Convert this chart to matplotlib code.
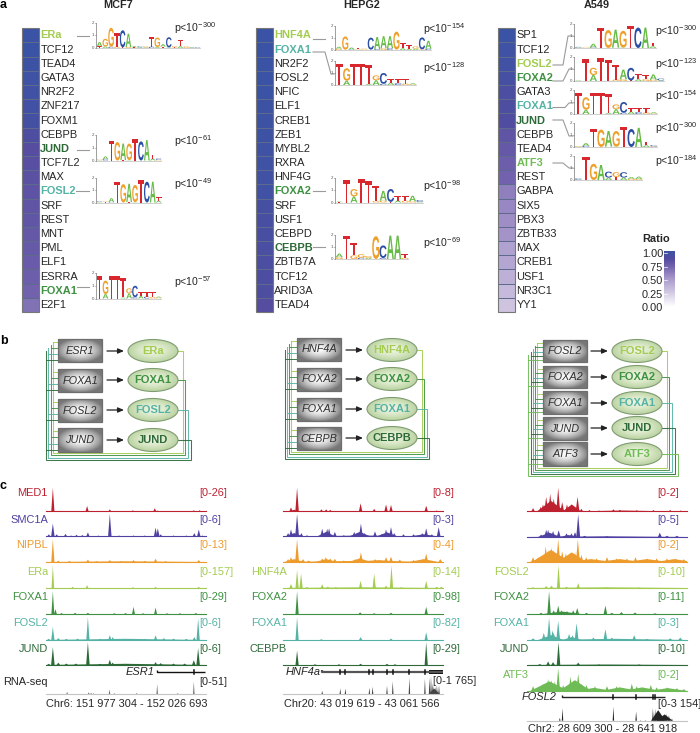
#!/usr/bin/env python3
"""Motif logos, core regulatory circuits and ChIP-seq tracks for MCF7, HEPG2 and A549."""

from __future__ import annotations

import matplotlib

matplotlib.use("Agg")

import matplotlib.pyplot as plt
import numpy as np
from matplotlib.colors import LinearSegmentedColormap
from matplotlib.font_manager import FontProperties
from matplotlib.patches import Ellipse, PathPatch, Rectangle
from matplotlib.textpath import TextPath
from matplotlib.transforms import Affine2D

W, H = 700, 733

# --- panel a: ranked factors ---------------------------------------------------
MCF7_FACTORS = ["ERa", "TCF12", "TEAD4", "GATA3", "NR2F2", "ZNF217", "FOXM1", "CEBPB", "JUND", "TCF7L2",
                "MAX", "FOSL2", "SRF", "REST", "MNT", "PML", "ELF1", "ESRRA", "FOXA1", "E2F1"]
HEPG2_FACTORS = ["HNF4A", "FOXA1", "NR2F2", "FOSL2", "NFIC", "ELF1", "CREB1", "ZEB1", "MYBL2", "RXRA",
                 "HNF4G", "FOXA2", "SRF", "USF1", "CEBPD", "CEBPB", "ZBTB7A", "TCF12", "ARID3A", "TEAD4"]
A549_FACTORS = ["SP1", "TCF12", "FOSL2", "FOXA2", "GATA3", "FOXA1", "JUND", "CEBPB", "TEAD4", "ATF3",
                "REST", "GABPA", "SIX5", "PBX3", "ZBTB33", "MAX", "CREB1", "USF1", "NR3C1", "YY1"]

MCF7_RATIO = [1.0, .99, .98, .97, .96, .95, .94, .88, .84, .83, .82, .81, .8, .79, .78, .77, .76, .74, .72, .66]
HEPG2_RATIO = [1.0, 1.0, .99, .99, .99, .98, .98, .98, .97, .97, .96, .96, .93, .92, .92, .91, .9, .89, .88, .84]
A549_RATIO = [1.0, .97, .96, .93, .9, .88, .87, .8, .78, .74, .72, .6, .57, .54, .52, .45, .43, .38, .33, .28]

RATIO_TICKS = ["1.00", "0.75", "0.50", "0.25", "0.00"]

# logo letters, bits of the top letter, lower letters, bits of the lower letter
LOGO_ERA = ("AGGTCAACGTGACGTGAC", [.35, .6, 1.5, 1.05, 1.35, 1.05, .1, .08, .08, .75, .75, .2, .8, .1, .45, .08, .05, .05],
            "TACGTGTAACATATAGCT", [.12, .12, .1, .1, .05, .08, .05, .05, .05, .1, .08, .1, .05, .05, .15, .05, .03, .03])
LOGO_JUN = ("GATGAGTCATC", [.05, .22, 1.5, 1.45, 1.3, 1.3, 1.65, 1.5, 1.6, .3, .1],
            "ACCTTAACTAG", [.03, .1, 0, 0, .03, .03, 0, 0, 0, .15, .05])
LOGO_FOS = ("CGATGAGTCAT", [.05, .05, .3, 1.7, 1.5, 1.5, 1.4, 1.85, 1.7, 1.7, .3],
            "ATCCTTAACTA", [.04, .04, .05, 0, 0, .03, .03, 0, 0, 0, .15])
LOGO_FOXA1 = ("TGTTTGCTTTA", [1.75, 1.05, 1.75, 1.75, 1.55, .4, .9, .3, .35, .4, .1],
              "AAAAAACACGG", [0, .35, 0, 0, .08, .4, .1, .2, .15, .12, .05])
LOGO_HNF = ("AGATGCAAAGTTGCA", [.15, 1.1, .15, .1, .08, 1.0, 1.0, 1.0, 1.0, 1.5, .4, .3, .2, 1.0, .65],
            "GTCGTTCGCTAAAGC", [.12, .03, .05, .05, .03, .03, .08, .15, .15, .03, .15, .1, .1, .05, .12])
LOGO_FOXA2 = ("ATGTTTACTTAC", [.05, 1.8, .6, 1.9, 1.75, 1.25, .8, 1.05, .4, .35, .45, .15],
              "TCAAAGGTAGGA", [.03, 0, .5, 0, 0, .12, .15, .05, .15, .15, .1, .05])
LOGO_CEB = ("ATTGGGCAAT", [.3, 1.95, 1.05, .3, .15, 1.9, 1.05, 1.95, 1.95, .3],
            "GAGCAACTTG", [.15, 0, .3, .1, .1, 0, .08, 0, 0, .1])
LOGO_ATF = ("CTGACGCAA", [.1, 1.95, 1.35, 1.25, .5, .4, .45, .15, .2],
            "ACCGATAGG", [.03, 0, 0, 0, .2, .25, .2, .1, .08])

P_VALUES_MCF7 = ["-300", "-61", "-49", "-57"]
P_VALUES_HEPG2 = ["-154", "-128", "-98", "-69"]
P_VALUES_A549 = ["-300", "-123", "-154", "-300", "-184"]

# --- panel b: circuits ---------------------------------------------------------
MCF7_GENES = ["ESR1", "FOXA1", "FOSL2", "JUND"]
MCF7_PROTEINS = ["ERa", "FOXA1", "FOSL2", "JUND"]
HEPG2_GENES = ["HNF4A", "FOXA2", "FOXA1", "CEBPB"]
HEPG2_PROTEINS = ["HNF4A", "FOXA2", "FOXA1", "CEBPB"]
A549_GENES = ["FOSL2", "FOXA2", "FOXA1", "JUND", "ATF3"]
A549_PROTEINS = ["FOSL2", "FOXA2", "FOXA1", "JUND", "ATF3"]

# --- panel c: signal as (percent along region, fraction of track height[, half width]) --
MCF7_PEAKS = {
    "MED1": [(4.6, 1), (9.4, .04), (26, .24), (40.2, .1), (54.6, .06), (68.3, .15), (70, .05), (92.7, .06), (96.3, .06)],
    "SMC1A": [(2.1, .1), (4.6, .55), (7, .1), (12.5, .12), (16, .05), (19.4, .08), (23, .07), (26.5, .18), (33, .05), (40.2, .95),
              (46, .05), (55, .05), (62, .05), (68.8, .38), (70.2, .35), (72, .1), (80, .05), (88, .05), (93, .15), (95.8, .3), (98, .05), (50, .03, 50)],
    "NIPBL": [(4.6, .95), (8, .05), (15, .04), (26.5, .1), (32, .03), (40.2, .08), (47, .03), (55, .08), (62, .04), (68.8, .14), (75, .03), (95.8, .08), (50, .03, 50)],
    "ERa": [(4.6, .95), (17, .05), (26, .12), (54.6, .03), (68.8, .05), (95.8, .05)],
    "FOXA1": [(4.6, .95), (6.2, .2), (10, .04), (18.5, .05), (26.5, .05), (43, .03), (50, .04), (55, .3), (61, .03), (68.8, .27), (76, .03), (84, .03), (94, .04)],
    "FOSL2": [(2, .05), (4.6, .55), (8, .08), (13, .05), (20, .06), (26.5, .95), (34, .05), (40.2, .2), (42, .12), (48, .05), (55, .05), (62, .05),
              (68.8, .2), (74, .08), (80, .06), (88, .05), (93, .12), (95.4, .9), (50, .05, 50)],
    "JUND": [(2, .05), (4.6, .75), (8, .1), (13, .06), (19, .06), (26.5, .95), (34, .05), (40.2, .22), (42, .1), (50, .05), (58, .05), (68.8, .12),
             (72, .08), (80, .06), (87, .06), (92.7, .2), (95.4, .7), (50, .05, 50)],
    "RNA-seq": [(13.5, .12), (27, .1), (28.5, .07), (30, .04), (40, .25), (43, .04), (57, .05), (69.8, .55), (82.7, .05), (92.7, .7)],
}
HEPG2_PEAKS = {
    "MED1": [(5, .18), (7, .08, 4), (8.8, 1), (24, .1), (25, .03, 5), (27, .1), (29.5, .08), (48.5, .35), (57, .12), (64.4, .3), (67.5, .28), (73, .03), (89.5, .25), (96, .05)],
    "SMC1A": [(3.2, .15), (5, .3), (8.8, .95), (11.5, .15), (15, .06), (24.5, .33), (27.6, .33), (28.8, .35), (32.4, .2), (38, .06), (44.5, .2),
              (48.7, .55), (51, .15), (57.5, .22), (61.8, .12), (64.4, .3), (67.5, .4), (69.5, .15), (75.3, .1), (81.6, .1), (87, .15), (89.5, .35),
              (93, .1), (97.3, .4), (7, .15, 6), (27, .2, 6), (48, .2, 7), (65, .18, 7), (88, .1, 10), (50, .05, 50)],
    "NIPBL": [(3.2, .12), (5, .2), (8.8, .95), (12.5, .12), (16, .06), (24.5, .15), (26.8, .2), (29.5, .15), (32.4, .13), (38, .06), (45, .12), (48.7, .4),
              (57.5, .12), (64.4, .2), (67.5, .22), (73, .1), (81.6, .08), (89.5, .35), (98.3, .12), (7, .12, 6), (27, .12, 7), (48, .15, 7), (60, .08, 15), (88, .12, 9), (50, .05, 50)],
    "HNF4A": [(5, .17), (8.8, .75), (11.3, .6), (15, .04), (24.5, .15), (28, .05), (33, .03), (48.5, .3), (57, .6), (64.4, .1), (67.8, .95), (74, .03), (89.5, .3), (96, .05), (99, .05), (50, .03, 50)],
    "FOXA2": [(8.8, .95), (48.2, .07), (57, .03), (67.5, .05), (89.5, .3)],
    "FOXA1": [(8.8, .95), (24, .03), (48.5, .12), (67.5, .06), (89.5, .32)],
    "CEBPB": [(8.8, .6), (20, .03), (35, .03), (48.5, .05), (65, .05), (70, .03), (89.5, .95)],
    "RNA-seq": [(24.5, .17), (35.8, .3), (39, .3), (54, .35), (56, .4), (65, .45), (68.6, .7), (79, .9), (88.7, .85),
                (91.6, .9), (92.5, 1), (93.3, .6), (94.1, .45), (95.2, .4), (96.2, .5), (97.5, .5), (94.5, .3, 3.5)],
}
A549_PEAKS = {
    "MED1": [(3.8, .15), (8.6, .2), (10, .3), (12, .62), (14.5, .75), (16.7, .55), (19.5, 1), (22, .4), (25, .3), (27.8, .3), (31.6, .62), (34, .12),
             (39, .07), (45, .05), (54, .1), (58, .08), (68.6, .06), (79, .07), (89.5, .07), (96, .05), (15, .45, 9), (28, .3, 6), (60, .05, 40)],
    "SMC1A": [(8.8, .1), (12, .3), (13.2, .3), (16.3, .25), (19.8, .28), (24.7, .15), (27.8, .15), (30, .2), (32, .95), (36, .05), (50, .03), (83, .18), (87.5, .05), (93.7, .05),
              (14, .18, 7), (26, .08, 6), (50, .03, 50)],
    "NIPBL": [(3.8, .2), (7, .2), (9, .25), (11.7, .65), (13.2, .5), (15.3, .6), (16.7, .5), (19.5, .95), (22, .45), (24.3, .35), (27.2, .4), (30, .4), (31.8, .95),
              (34, .3), (37, .2), (43.5, .15), (50, .2), (56, .15), (62.5, .15), (67.8, .2), (75, .15), (81, .15), (87.5, .15), (93, .15), (98, .12),
              (15, .5, 12), (28, .4, 9), (10, .2, 8), (40, .12, 14), (58, .12, 14), (75, .12, 14), (92, .12, 12)],
    "FOSL2": [(3.8, .03), (12, .08), (15.3, .1), (19.7, .95), (24.7, .05), (32, .2), (50, .02), (70, .02), (50, .03, 50)],
    "FOXA2": [(8.8, .05), (13.8, .95), (16.7, .15), (19.5, .35), (21.5, .15), (25, .12), (28.9, .15), (31.4, .25), (37.2, .05), (49, .35), (53, .05), (59, .08), (67.5, .06), (80, .03),
              (22, .1, 12)],
    "FOXA1": [(3.8, .07), (10.5, .3), (13.8, .92), (16, .4), (16.7, .3), (19.5, .8), (26.3, .25), (28.5, .2), (31, .7), (41.5, .1), (49, .45), (53, .1), (67, .2), (75, .05), (89.5, .07), (95.8, .1),
              (15, .2, 8), (28, .12, 6), (55, .05, 45)],
    "JUND": [(8, .04), (13.2, .15), (16.3, .12), (19.7, .95), (32, .1), (45, .02), (70, .02), (50, .02, 50)],
    "ATF3": [(3.8, .2), (7, .15), (10, .3), (13.2, .5), (15.3, .45), (17.4, .4), (19.5, .95), (22.6, .25), (27.2, .6), (28.9, .45), (32, .72), (34, .3), (37.2, .25),
             (42.5, .2), (50, .2), (56, .2), (65.5, .3), (68.6, .2), (77.4, .25), (81, .15), (87.5, .15), (93.7, .12), (98, .08),
             (14, .4, 12), (30, .45, 10), (42, .13, 12), (58, .15, 12), (72, .15, 12), (88, .12, 12)],
    "RNA-seq": [(20.5, .2), (22.2, .9), (54, 1), (68.2, .65), (71, .03), (74, .03), (78.7, .9), (80.1, .85), (81.6, .7), (83.3, .55), (85, .4), (87, .5), (88.7, .4), (90.6, .15),
                (82, .75, 4.5), (86, .45, 5)],
}

MCF7_RANGES = ["[0-26]", "[0-6]", "[0-13]", "[0-157]", "[0-29]", "[0-6]", "[0-6]", "[0-51]"]
HEPG2_RANGES = ["[0-8]", "[0-3]", "[0-4]", "[0-14]", "[0-98]", "[0-82]", "[0-29]", "[0-1 765]"]
A549_RANGES = ["[0-2]", "[0-5]", "[0-2]", "[0-10]", "[0-11]", "[0-3]", "[0-10]", "[0-2]", "[0-3 154]"]

# tracks that carry a name on their left
MCF7_LABELLED = list(MCF7_PEAKS)
HEPG2_LABELLED = ["HNF4A", "FOXA2", "FOXA1", "CEBPB"]
A549_LABELLED = ["FOSL2", "FOXA2", "FOXA1", "JUND", "ATF3"]

# exon positions as percent of the region
MCF7_EXONS = [92.7]
HEPG2_EXONS = [35.8, 39, 54, 56, 65, 68.6, 79, 88.7]
A549_EXONS = [54, 68.2, 78.7, 80]

LIME, GREEN, TEAL, DARK, ATF = "#a3cc50", "#3f9142", "#55b3a5", "#2d6a38", "#6fbb55"
RED, PURPLE, ORANGE = "#bd2130", "#4f41a1", "#ee9b2d"
LOGO_COLORS = {"A": "#66bb47", "C": "#2b4fa6", "G": "#efa02c", "T": "#d8282e"}
RATIO_CMAP = LinearSegmentedColormap.from_list(
    "ratio",
    [(0, "#ffffff"), (.25, "#d3cae3"), (.5, "#a898cb"), (.72, "#7262ad"), (.85, "#544ca0"), (1, "#3a53a4")],
)

plt.rcParams["font.family"] = ["Liberation Sans", "DejaVu Sans"]
plt.rcParams["mathtext.default"] = "regular"
TEXT = "#262626"
LOGO_FONT = FontProperties(family="Liberation Sans", weight="bold")


def px_axes(fig, x0, y0, x1, y1):
    """Inset axes placed by pixel box, y counted from the top."""
    ax = fig.add_axes([x0 / W, 1 - y1 / H, (x1 - x0) / W, (y1 - y0) / H])
    ax.axis("off")
    return ax


def draw_letter(ax, letter, x, base, width, height):
    if height <= 0:
        return
    tp = TextPath((0, 0), letter, size=1, prop=LOGO_FONT)
    box = tp.get_extents()
    tr = Affine2D().translate(-box.x0, -box.y0).scale(width / box.width, -height / box.height).translate(x, base)
    ax.add_patch(PathPatch(tr.transform_path(tp), fc=LOGO_COLORS[letter], lw=0))


def draw_logo(ax, logo, axis_x, base, top, width):
    letters, bits, low_letters, low_bits = logo
    per_bit = (base - top) / 2
    ax.plot([axis_x, axis_x], [base, top], color="#777777", lw=0.5)
    for tick, label in enumerate("012"):
        y = base - tick * per_bit
        ax.plot([axis_x - 1.2, axis_x], [y, y], color="#777777", lw=0.4)
        ax.text(axis_x - 1.6, y, label, fontsize=3.2, ha="right", va="center", color="#555555")
    ax.plot([axis_x + 1, axis_x + width], [base + .3, base + .3], color="#c8c8c8", lw=0.6)
    step = width / len(letters)
    for i, letter in enumerate(letters):
        x = axis_x + 0.7 + i * step
        low = low_bits[i] * per_bit
        draw_letter(ax, low_letters[i], x, base, step * .97, low)
        draw_letter(ax, letter, x, base - low, step * .97, bits[i] * per_bit)


def draw_ranked(fig, ax, x0, names, ratios, colored, logos, pvals, p_x, p_y):
    top, bottom = 28.3, 312
    hm = px_axes(fig, x0, top, x0 + 17, bottom)
    hm.pcolormesh(np.array(ratios)[:, None], cmap=RATIO_CMAP, vmin=0, vmax=1, edgecolors="#5d6a8c", linewidth=0.5)
    hm.invert_yaxis()
    ax.add_patch(Rectangle((x0, top), 17, bottom - top, fc="none", ec="#777777", lw=0.8))
    cell = (bottom - top) / len(names)
    for i, name in enumerate(names):
        y = top + (i + .5) * cell
        if name in colored:
            ax.text(x0 + 18.3, y, name, fontsize=7.9, color=colored[name], fontweight="bold", va="center")
        else:
            ax.text(x0 + 18.3, y, name, fontsize=7.9, color=TEXT, va="center")
    for (logo, axis_x, base, logo_top, width), power, y in zip(logos, pvals, p_y):
        draw_logo(ax, logo, axis_x, base, logo_top, width)
        ax.text(p_x, y, rf"p<10$^{{{power}}}$", fontsize=7.6, color=TEXT, va="center")


def draw_circuit(ax, genes, proteins, colors, box_x, boxes, ell_x, ell_y, right, bottom, left):
    box_w = 44
    grad_y, grad_x = np.mgrid[-1:1:40j, -1:1:80j]
    grad = np.clip(np.hypot(grad_x * .92, grad_y * .92), 0, 1) ** 1.6
    ell_grad = np.clip(np.hypot(grad_x, grad_y), 0, 1)
    ell_cmap = LinearSegmentedColormap.from_list("e", ["#f0f6e6", "#dbe9c9", "#bcd4a4"])
    n = len(genes)
    for k, color in enumerate(colors):
        cy = ell_y[k]
        ax.plot([ell_x + 25, right[k], right[k], left[k], left[k]],
                [cy, cy, bottom[k], bottom[k], boxes[0][0] + 3 + k * 3], color=color, lw=0.75, alpha=.9, solid_joinstyle="miter")
        for top_y, bot_y in boxes:
            y = top_y + 3 + k * (bot_y - top_y - 5) / max(n - 1, 1)
            ax.plot([left[k], box_x], [y, y], color=color, lw=0.7, alpha=.9)
    for k, (gene, protein) in enumerate(zip(genes, proteins)):
        top_y, bot_y = boxes[k]
        ax.imshow(grad, extent=(box_x, box_x + box_w, bot_y, top_y), cmap="gray_r", vmin=-0.02, vmax=1.9,
                  aspect="auto", zorder=3, interpolation="bilinear")
        ax.add_patch(Rectangle((box_x, top_y), box_w, bot_y - top_y, fc="none", ec="#6e6e6e", lw=0.9, zorder=4))
        ax.text(box_x + box_w / 2, (top_y + bot_y) / 2, gene, fontsize=7.8, style="italic", color="#2f2f2f",
                ha="center", va="center", zorder=5)
        cy = ell_y[k]
        ax.annotate("", xy=(ell_x - 29, cy), xytext=(ell_x - 46, cy), zorder=5,
                    arrowprops=dict(arrowstyle="-|>,head_length=.35,head_width=.15", lw=0.9, color="#222222", shrinkA=0, shrinkB=0))
        img = ax.imshow(ell_grad, extent=(ell_x - 25, ell_x + 25, cy + 11.5, cy - 11.5), aspect="auto", zorder=3,
                        cmap=ell_cmap, interpolation="bilinear")
        img.set_clip_path(Ellipse((ell_x, cy), 50, 23, transform=ax.transData))
        ax.add_patch(Ellipse((ell_x, cy), 50, 23, fc="none", ec="#7f9c70", lw=0.8, zorder=4))
        ax.text(ell_x, cy, protein, fontsize=8.0, fontweight="bold", color=colors[k], ha="center", va="center", zorder=5)
    ax.set_xlim(0, W)
    ax.set_ylim(H, 0)


def draw_tracks(fig, ax, x0, peaks, colors, rna_color, ranges, labelled, label_x, range_x, bases, label_y, range_y, half_widths):
    x1 = x0 + 160
    for i, (name, track) in enumerate(peaks.items()):
        is_rna = name == "RNA-seq"
        color = rna_color if is_rna else colors[i]
        base = bases[i]
        height = (14 if len(bases) == 9 else 18) if is_rna else 24
        half = 0.45 if is_rna else half_widths[i]
        tr = px_axes(fig, x0, base - height, x1, base)
        tr.set_xlim(0, 100)
        tr.set_ylim(0, 1)
        for peak in track:
            pos, value = peak[:2]
            w = peak[2] if len(peak) > 2 else half
            tr.fill([pos - w, pos, pos + w], [0, value, 0], color=color, lw=0)
        tr.plot([0, 100], [0.012, 0.012], color="#c4c4c4" if is_rna else color, lw=0.8, clip_on=False)
        if name in labelled:
            ax.text(label_x, label_y[i], name, fontsize=7.9, color=TEXT if is_rna else color, ha="right", va="center")
        ax.text(range_x, range_y[i], ranges[i], fontsize=7.9, color=TEXT if is_rna else color, va="center")


def draw_gene(ax, name, name_right, x0, x1, y, exons, span_x0, lw, color, thick_end=None):
    ax.text(name_right, y, name, fontsize=7.9, style="italic", color=TEXT, ha="right", va="center")
    ax.plot([x0, x0, x1], [y - 2, y, y], color=color, lw=lw, solid_capstyle="butt")
    for pos in exons:
        x = span_x0 + pos * 1.6
        ax.plot([x, x], [y - 2, y + 2], color="#111111", lw=1.1)
    if thick_end is not None:
        ax.add_patch(Rectangle((thick_end, y - 2), x1 - thick_end, 4, fc="#111111", lw=0))


def main() -> None:
    fig = plt.figure(figsize=(W / 100, H / 100), dpi=100, facecolor="white")
    ax = fig.add_axes([0, 0, 1, 1])
    ax.set_xlim(0, W)
    ax.set_ylim(H, 0)
    ax.axis("off")
    ax.set_zorder(2)
    ax.patch.set_alpha(0)

    # panel letters and headers
    for letter, y in zip("abc", (5, 341, 486)):
        ax.text(0, y, letter, fontsize=9, fontweight="bold", color="black", va="center")
    for title, x in zip(("MCF7", "HEPG2", "A549"), (118, 362, 597)):
        ax.text(x, 4.5, title, fontsize=7.8, fontweight="bold", color=TEXT, ha="center", va="center")

    # panel a
    draw_ranked(fig, ax, 22, MCF7_FACTORS, MCF7_RATIO, {"ERa": LIME, "JUND": DARK, "FOSL2": TEAL, "FOXA1": GREEN},
                [(LOGO_ERA, 96, 48, 22.7, 104), (LOGO_JUN, 96, 160.5, 135, 65), (LOGO_FOS, 96, 202.5, 178, 65),
                 (LOGO_FOXA1, 96, 298.5, 273, 65)], P_VALUES_MCF7, 174, (28, 141, 184, 282))
    draw_ranked(fig, ax, 256, HEPG2_FACTORS, HEPG2_RATIO, {"HNF4A": LIME, "FOXA1": TEAL, "FOXA2": GREEN, "CEBPB": DARK},
                [(LOGO_HNF, 335, 50, 26, 96), (LOGO_FOXA1, 335, 85, 61, 81), (LOGO_FOXA2, 335, 202.5, 178, 88),
                 (LOGO_CEB, 335, 259, 235, 73)], P_VALUES_HEPG2, 422.7, (29, 68, 186, 243))
    draw_ranked(fig, ax, 498, A549_FACTORS, A549_RATIO, {"FOSL2": LIME, "FOXA2": GREEN, "FOXA1": TEAL, "JUND": DARK, "ATF3": ATF},
                [(LOGO_FOS, 574, 48, 24, 82), (LOGO_FOXA2, 574, 81, 57, 90), (LOGO_FOXA1, 574, 114, 90, 83),
                 (LOGO_JUN, 574, 147, 123, 83), (LOGO_ATF, 574, 180, 156, 68)], P_VALUES_A549, 655, (31, 64, 96, 128, 161))

    # connectors from names to logos
    connectors = [
        ([77, 89], [36, 36]), ([77, 89], [149.5, 149.5]), ([76, 89], [191, 191]), ([77, 89], [287, 287]),
        ([313, 325], [39, 39]), ([313, 325, 331, 334], [52, 52, 74, 74]), ([313, 325], [191, 191]), ([313, 325], [247, 247]),
        ([553, 563, 568, 573], [65, 65, 36, 36]), ([553, 563, 569, 573], [81, 81, 69, 69]),
        ([553, 565, 569, 573], [107.5, 107.5, 103, 103]), ([553, 563, 569, 573], [120, 120, 136, 136]),
        ([553, 563, 569, 573], [163, 163, 168, 168]),
    ]
    for xs, ys in connectors:
        ax.plot(xs, ys, color="#9a9a9a", lw=0.8)

    # colour bar
    cb = px_axes(fig, 664, 251, 675, 307)
    cb.imshow(np.linspace(1, 0, 64)[:, None], cmap=RATIO_CMAP, vmin=0, vmax=1, aspect="auto")
    ax.text(642, 239.5, "Ratio", fontsize=7.9, fontweight="bold", color=TEXT, va="center")
    for label, y in zip(RATIO_TICKS, (254, 268, 281, 294.5, 308)):
        ax.text(642, y, label, fontsize=7.9, color=TEXT, va="center")
        ax.plot([664, 667], [y - 1, y - 1], color="white", lw=0.5, zorder=6)

    # panel b
    draw_circuit(ax, MCF7_GENES, MCF7_PROTEINS, [LIME, GREEN, TEAL, DARK], 58,
                 [(339, 362), (369, 392), (399, 422), (428, 452)], 153, (351, 380, 410, 440),
                 (183, 185, 188, 191), (453, 455, 458, 460), (53, 51, 48, 46))
    draw_circuit(ax, HEPG2_GENES, HEPG2_PROTEINS, [LIME, GREEN, TEAL, DARK], 297,
                 [(338, 361), (368, 391), (398, 421), (427, 450)], 392, (350, 379, 409, 438),
                 (422, 424, 427, 429), (452, 454, 457, 459), (291, 289, 287, 285))
    draw_circuit(ax, A549_GENES, A549_PROTEINS, [LIME, GREEN, TEAL, DARK, ATF], 543,
                 [(340, 362), (366, 388), (391, 414), (417, 440), (442, 466)], 637, (351, 377, 403, 428, 454),
                 (667, 669, 672, 675, 678), (468, 470, 472, 474, 476), (537, 535, 533, 531, 528))

    # panel c
    label_y = (493, 520, 545, 572, 597, 623, 649, 682)
    bases = (511.7, 536.7, 562, 588, 614, 640, 665, 694)
    draw_tracks(fig, ax, 45.5, MCF7_PEAKS, [RED, PURPLE, ORANGE, LIME, GREEN, TEAL, DARK], "#6a6a6a", MCF7_RANGES, MCF7_LABELLED, 48, 199,
                bases, label_y, label_y, (1.0, 1.1, 1.0, .8, .9, 1.0, 1.1))
    draw_tracks(fig, ax, 283, HEPG2_PEAKS, [RED, PURPLE, ORANGE, LIME, GREEN, TEAL, DARK], "#444444", HEPG2_RANGES, HEPG2_LABELLED, 287, 432.7,
                bases, label_y, (493, 520, 545, 572, 597, 623, 649, 681), (1.1, 1.2, 1.2, 1.0, 1.0, 1.0, 1.0))
    draw_tracks(fig, ax, 527, A549_PEAKS, [RED, PURPLE, ORANGE, LIME, GREEN, TEAL, DARK, ATF], "#222222", A549_RANGES, A549_LABELLED, 529, 657.7,
                (511.7, 537, 562, 588, 614, 640, 665, 691, 720.7), (493, 520, 545, 572, 597, 623, 649, 675, 682),
                (493, 520, 545, 572, 597, 623, 649, 675, 704), (1.2, 1.2, 1.2, 1.0, 1.1, 1.2, 1.1, 1.2))

    draw_gene(ax, "ESR1", 155, 157, 205, 671.7, MCF7_EXONS, 45.5, 1.0, "#111111")
    draw_gene(ax, "HNF4a", 321, 322, 443, 671.7, HEPG2_EXONS, 283, 1.6, "#555555", thick_end=429)
    draw_gene(ax, "FOSL2", 557, 562, 665, 697, A549_EXONS, 527, 1.0, "#222222")

    for label, x, y in (("Chr6: 151 977 304 - 152 026 693", 126.5, 704), ("Chr20: 43 019 619 - 43 061 566", 362, 704),
                        ("Chr2: 28 609 300 - 28 641 918", 603, 729)):
        ax.text(x, y, label, fontsize=7.9, color=TEXT, ha="center", va="center")

    fig.savefig("out.png", dpi=100, facecolor="white")


if __name__ == "__main__":
    main()
